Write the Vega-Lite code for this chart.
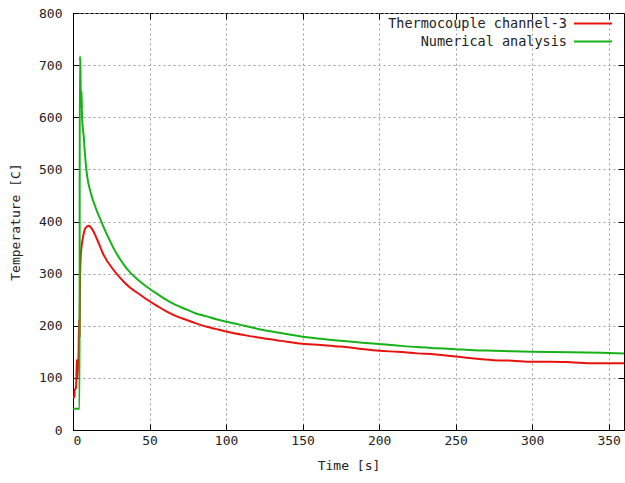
{
  "$schema": "https://vega.github.io/schema/vega-lite/v6.json",
  "width": 551,
  "height": 417,
  "autosize": {"type": "none"},
  "padding": {"left": 73, "top": 13, "right": 1, "bottom": 53},
  "background": "white",
  "config": {
    "font": "DejaVu Sans Mono",
    "view": {"stroke": "#000", "strokeWidth": 1},
    "axis": {
      "labelFont": "DejaVu Sans Mono",
      "titleFont": "DejaVu Sans Mono",
      "labelFontSize": 13,
      "titleFontSize": 13,
      "titleFontWeight": "normal",
      "labelColor": "#222",
      "titleColor": "#222",
      "domainColor": "#000",
      "tickColor": "#000",
      "tickSize": -6,
      "gridColor": "#9a9a9a",
      "gridDash": [2, 3],
      "gridWidth": 1
    },
    "legend": {
      "labelFont": "DejaVu Sans Mono",
      "labelFontSize": 13.5,
      "labelColor": "#222",
      "labelLimit": 400
    }
  },
  "data": {
    "values": [
      {"series": "Thermocouple channel-3", "t": 0, "v": 62},
      {"series": "Thermocouple channel-3", "t": 0.8, "v": 62},
      {"series": "Thermocouple channel-3", "t": 1.2, "v": 78},
      {"series": "Thermocouple channel-3", "t": 1.9, "v": 80},
      {"series": "Thermocouple channel-3", "t": 2.2, "v": 97},
      {"series": "Thermocouple channel-3", "t": 2.5, "v": 135},
      {"series": "Thermocouple channel-3", "t": 2.8, "v": 100},
      {"series": "Thermocouple channel-3", "t": 3.6, "v": 140},
      {"series": "Thermocouple channel-3", "t": 4.0, "v": 212},
      {"series": "Thermocouple channel-3", "t": 4.3, "v": 180},
      {"series": "Thermocouple channel-3", "t": 4.6, "v": 290},
      {"series": "Thermocouple channel-3", "t": 5.0, "v": 330},
      {"series": "Thermocouple channel-3", "t": 5.6, "v": 352},
      {"series": "Thermocouple channel-3", "t": 6.6, "v": 371},
      {"series": "Thermocouple channel-3", "t": 8.1, "v": 387},
      {"series": "Thermocouple channel-3", "t": 10.2, "v": 392},
      {"series": "Thermocouple channel-3", "t": 12.4, "v": 386},
      {"series": "Thermocouple channel-3", "t": 15.7, "v": 366},
      {"series": "Thermocouple channel-3", "t": 20, "v": 336},
      {"series": "Thermocouple channel-3", "t": 26.5, "v": 307},
      {"series": "Thermocouple channel-3", "t": 33, "v": 285},
      {"series": "Thermocouple channel-3", "t": 37.4, "v": 273},
      {"series": "Thermocouple channel-3", "t": 43.6, "v": 260},
      {"series": "Thermocouple channel-3", "t": 50, "v": 247},
      {"series": "Thermocouple channel-3", "t": 55, "v": 238},
      {"series": "Thermocouple channel-3", "t": 61.3, "v": 227},
      {"series": "Thermocouple channel-3", "t": 67, "v": 219},
      {"series": "Thermocouple channel-3", "t": 74.4, "v": 211},
      {"series": "Thermocouple channel-3", "t": 80, "v": 205},
      {"series": "Thermocouple channel-3", "t": 87.4, "v": 198},
      {"series": "Thermocouple channel-3", "t": 93, "v": 194},
      {"series": "Thermocouple channel-3", "t": 100, "v": 189},
      {"series": "Thermocouple channel-3", "t": 112, "v": 182},
      {"series": "Thermocouple channel-3", "t": 124.3, "v": 176},
      {"series": "Thermocouple channel-3", "t": 136, "v": 171},
      {"series": "Thermocouple channel-3", "t": 148, "v": 166},
      {"series": "Thermocouple channel-3", "t": 162, "v": 163},
      {"series": "Thermocouple channel-3", "t": 175, "v": 160},
      {"series": "Thermocouple channel-3", "t": 187, "v": 156},
      {"series": "Thermocouple channel-3", "t": 200, "v": 152},
      {"series": "Thermocouple channel-3", "t": 212, "v": 150},
      {"series": "Thermocouple channel-3", "t": 225, "v": 147},
      {"series": "Thermocouple channel-3", "t": 237, "v": 145},
      {"series": "Thermocouple channel-3", "t": 250, "v": 141},
      {"series": "Thermocouple channel-3", "t": 262, "v": 137},
      {"series": "Thermocouple channel-3", "t": 275, "v": 134},
      {"series": "Thermocouple channel-3", "t": 287, "v": 133},
      {"series": "Thermocouple channel-3", "t": 300, "v": 131},
      {"series": "Thermocouple channel-3", "t": 312, "v": 131},
      {"series": "Thermocouple channel-3", "t": 325, "v": 130},
      {"series": "Thermocouple channel-3", "t": 340, "v": 128},
      {"series": "Thermocouple channel-3", "t": 360, "v": 128},
      {"series": "Numerical analysis", "t": 0, "v": 41},
      {"series": "Numerical analysis", "t": 4.3, "v": 41},
      {"series": "Numerical analysis", "t": 4.4, "v": 717},
      {"series": "Numerical analysis", "t": 4.8, "v": 705},
      {"series": "Numerical analysis", "t": 5.2, "v": 620},
      {"series": "Numerical analysis", "t": 5.6, "v": 650},
      {"series": "Numerical analysis", "t": 5.9, "v": 600},
      {"series": "Numerical analysis", "t": 7.0, "v": 563},
      {"series": "Numerical analysis", "t": 8.0, "v": 522},
      {"series": "Numerical analysis", "t": 9.2, "v": 488},
      {"series": "Numerical analysis", "t": 11.3, "v": 458},
      {"series": "Numerical analysis", "t": 13.5, "v": 437},
      {"series": "Numerical analysis", "t": 15.5, "v": 421},
      {"series": "Numerical analysis", "t": 17.9, "v": 404},
      {"series": "Numerical analysis", "t": 20.5, "v": 386},
      {"series": "Numerical analysis", "t": 23.3, "v": 368},
      {"series": "Numerical analysis", "t": 27, "v": 346},
      {"series": "Numerical analysis", "t": 30.9, "v": 327},
      {"series": "Numerical analysis", "t": 34, "v": 314},
      {"series": "Numerical analysis", "t": 37.4, "v": 302},
      {"series": "Numerical analysis", "t": 43, "v": 287},
      {"series": "Numerical analysis", "t": 50, "v": 271},
      {"series": "Numerical analysis", "t": 55, "v": 261},
      {"series": "Numerical analysis", "t": 61.3, "v": 249},
      {"series": "Numerical analysis", "t": 67, "v": 240},
      {"series": "Numerical analysis", "t": 74.4, "v": 231},
      {"series": "Numerical analysis", "t": 80, "v": 224},
      {"series": "Numerical analysis", "t": 87.4, "v": 218},
      {"series": "Numerical analysis", "t": 93, "v": 213},
      {"series": "Numerical analysis", "t": 100, "v": 208},
      {"series": "Numerical analysis", "t": 112, "v": 200},
      {"series": "Numerical analysis", "t": 124.3, "v": 192},
      {"series": "Numerical analysis", "t": 136, "v": 186},
      {"series": "Numerical analysis", "t": 148, "v": 180},
      {"series": "Numerical analysis", "t": 162, "v": 175},
      {"series": "Numerical analysis", "t": 175, "v": 171},
      {"series": "Numerical analysis", "t": 187, "v": 168},
      {"series": "Numerical analysis", "t": 200, "v": 165},
      {"series": "Numerical analysis", "t": 212, "v": 162},
      {"series": "Numerical analysis", "t": 225, "v": 159},
      {"series": "Numerical analysis", "t": 237, "v": 157},
      {"series": "Numerical analysis", "t": 250, "v": 155},
      {"series": "Numerical analysis", "t": 262, "v": 153},
      {"series": "Numerical analysis", "t": 275, "v": 152},
      {"series": "Numerical analysis", "t": 287, "v": 151},
      {"series": "Numerical analysis", "t": 300, "v": 150},
      {"series": "Numerical analysis", "t": 325, "v": 149},
      {"series": "Numerical analysis", "t": 345, "v": 148},
      {"series": "Numerical analysis", "t": 360, "v": 147}
    ]
  },
  "resolve": {"axis": {"x": "independent", "y": "independent"}},
  "layer": [
    {
      "mark": {"type": "line", "strokeWidth": 2, "clip": true, "interpolate": "monotone"},
      "encoding": {
        "x": {
          "field": "t", "type": "quantitative",
          "scale": {"domain": [0, 360], "nice": false},
          "axis": {"title": "Time [s]", "values": [0, 50, 100, 150, 200, 250, 300, 350], "grid": true, "labelPadding": 10, "titlePadding": 12}
        },
        "y": {
          "field": "v", "type": "quantitative",
          "scale": {"domain": [0, 800], "nice": false},
          "axis": {"title": "Temperature [C]", "values": [0, 100, 200, 300, 400, 500, 600, 700, 800], "grid": true, "labelPadding": 17, "titlePadding": 16}
        },
        "color": {
          "field": "series", "type": "nominal",
          "scale": {"domain": ["Thermocouple channel-3", "Numerical analysis"], "range": ["#e8120f", "#17b217"]},
          "legend": {
            "title": null,
            "orient": "none",
            "legendX": 509.5,
            "legendY": 0,
            "symbolType": "M-2,0H2",
            "symbolSize": 361,
            "symbolStrokeWidth": 2,
            "labelAlign": "right",
            "labelOffset": -36.5,
            "rowPadding": 1,
            "padding": 0
          }
        },
        "order": {"field": "t", "type": "quantitative"}
      }
    },
    {
      "mark": {"type": "line", "opacity": 0},
      "encoding": {
        "x": {
          "field": "t", "type": "quantitative",
          "scale": {"domain": [0, 360], "nice": false},
          "axis": {"orient": "top", "title": null, "labels": false, "grid": false, "domain": false, "values": [0, 50, 100, 150, 200, 250, 300, 350]}
        },
        "y": {
          "field": "v", "type": "quantitative",
          "scale": {"domain": [0, 800], "nice": false},
          "axis": {"orient": "right", "title": null, "labels": false, "grid": false, "domain": false, "values": [0, 100, 200, 300, 400, 500, 600, 700, 800]}
        },
        "detail": {"field": "series", "type": "nominal"}
      }
    }
  ]
}
